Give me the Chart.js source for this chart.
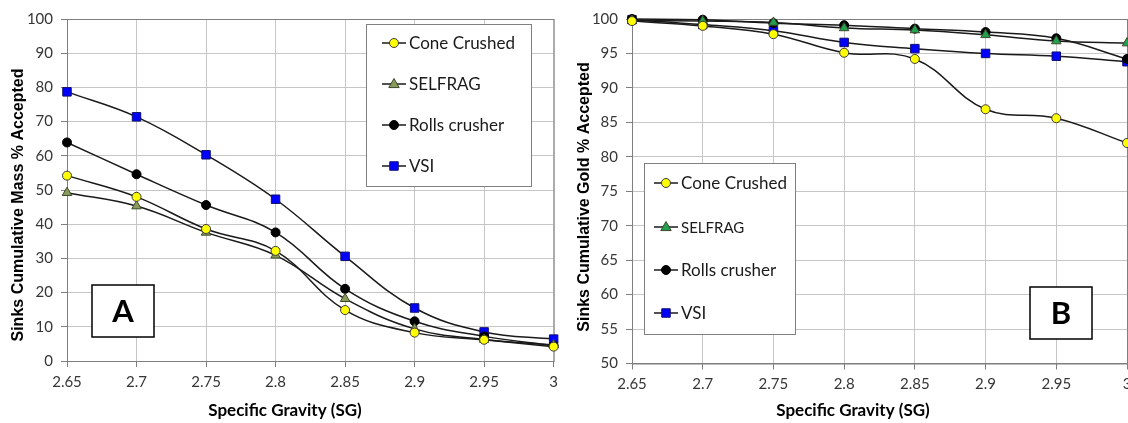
<!DOCTYPE html>
<html>
<head>
<meta charset="utf-8">
<script src="https://cdn.jsdelivr.net/npm/chart.js"></script>
<style>
  html, body { margin: 0; padding: 0; background: #fff; overflow: hidden; }
  .panel { position: absolute; top: 0; }
</style>
</head>
<body>
<div class="panel" style="left:0px"><canvas id="chartA" width="564" height="423"></canvas></div>
<div class="panel" style="left:564px"><canvas id="chartB" width="580" height="423"></canvas></div>
<script>
// specific gravity cut points (x axis categories)
const sgLabels = ['2.65', '2.7', '2.75', '2.8', '2.85', '2.9', '2.95', '3'];
const seriesNames = ['Cone Crushed', 'SELFRAG', 'Rolls crusher', 'VSI'];

// A: sinks cumulative mass % accepted
const massCone    = [54.2, 48.0, 38.6, 32.2, 14.9, 8.3, 6.2, 4.2];
const massSelfrag = [49.2, 45.3, 37.6, 30.9, 18.2, 9.4, 6.3, 4.7];
const massRolls   = [63.9, 54.6, 45.6, 37.6, 21.1, 11.6, 7.2, 4.5];
const massVsi     = [78.7, 71.4, 60.3, 47.3, 30.6, 15.5, 8.5, 6.4];

// B: sinks cumulative gold % accepted
const goldCone    = [99.7, 99.0, 97.8, 95.1, 94.2, 86.9, 85.6, 82.0];
const goldSelfrag = [99.8, 99.7, 99.5, 98.7, 98.4, 97.7, 96.8, 96.5];
const goldRolls   = [100.0, 99.9, 99.4, 99.1, 98.6, 98.1, 97.2, 94.2];
const goldVsi     = [99.9, 99.2, 98.3, 96.6, 95.7, 95.0, 94.6, 93.8];

// axis ranges
const massAxis = { min: 0, max: 100, step: 10 };
const goldAxis = { min: 50, max: 100, step: 5 };

const gridColor = '#c6c6c6';
const axisColor = '#7f7f7f';
const tickColor = '#363636';

function drawMarker(ctx, style, x, y, r, fill, stroke) {
    ctx.beginPath();
    if (style === 'rect') {
        const s = r * Math.SQRT1_2;
        ctx.rect(x - s, y - s, 2 * s, 2 * s);
    } else if (style === 'triangle') {
        ctx.moveTo(x, y - r);
        ctx.lineTo(x + r * 0.95, y + r * 0.65);
        ctx.lineTo(x - r * 0.95, y + r * 0.65);
        ctx.closePath();
    } else {
        ctx.arc(x, y, r, 0, Math.PI * 2);
    }
    ctx.fillStyle = fill;
    ctx.fill();
    ctx.lineWidth = 1;
    ctx.strokeStyle = stroke;
    ctx.stroke();
}

// top/right frame of the plot area
const frame = {
    id: 'frame',
    beforeDatasetsDraw(chart) {
        const { ctx, chartArea: a } = chart;
        ctx.save();
        ctx.strokeStyle = axisColor;
        ctx.lineWidth = 1;
        ctx.strokeRect(a.left + 0.5, a.top + 0.5, a.right - a.left, a.bottom - a.top);
        ctx.restore();
    }
};

// legend box, panel tag and axis titles
const decorations = {
    id: 'decorations',
    afterDraw(chart, args, o) {
        const { ctx } = chart;
        ctx.save();

        // legend
        const lb = o.legend;
        ctx.fillStyle = '#fff';
        ctx.fillRect(lb.x, lb.y, lb.w, lb.h);
        ctx.strokeStyle = '#808080';
        ctx.lineWidth = 1;
        ctx.strokeRect(lb.x + 0.5, lb.y + 0.5, lb.w, lb.h);
        chart.data.datasets.forEach((ds, i) => {
            const y = lb.rows[i];
            ctx.beginPath();
            ctx.moveTo(lb.lineX, y);
            ctx.lineTo(lb.lineX + 24, y);
            ctx.strokeStyle = '#1a1a1a';
            ctx.lineWidth = 1.5;
            ctx.stroke();
            drawMarker(ctx, ds.pointStyle, lb.lineX + 12, y, ds.pointRadius,
                       ds.pointBackgroundColor, ds.pointBorderColor);
            ctx.fillStyle = '#1a1a1a';
            ctx.font = (lb.sizes ? lb.sizes[i] : 17) + 'px Lato';
            ctx.textBaseline = 'middle';
            ctx.textAlign = 'left';
            ctx.fillText(ds.label, lb.lineX + 27, y + 1);
        });

        // panel tag
        const t = o.tag;
        ctx.fillStyle = '#fff';
        ctx.fillRect(t.x, t.y, t.w, t.h);
        ctx.strokeStyle = '#000';
        ctx.lineWidth = 1.5;
        ctx.strokeRect(t.x, t.y, t.w, t.h);
        ctx.fillStyle = '#000';
        ctx.font = 'bold 31px Lato';
        ctx.textAlign = 'center';
        ctx.textBaseline = 'middle';
        ctx.fillText(t.text, t.x + t.w / 2, t.y + t.h / 2 + 1);

        // axis titles
        ctx.fillStyle = '#000';
        ctx.font = 'bold 17px Lato';
        ctx.fillText('Specific Gravity (SG)', o.xTitle.x, o.xTitle.y);
        ctx.translate(o.yTitle.x, o.yTitle.y);
        ctx.rotate(-Math.PI / 2);
        ctx.font = 'bold 16px "Liberation Sans"';
        ctx.fillText(o.yTitle.text, 0, 0);
        ctx.restore();
    }
};

const makeDataset = (label, data, style, fill, stroke, radius) => ({
    label: label,
    data: data,
    borderColor: '#1a1a1a',
    borderWidth: 1.5,
    tension: 0.4,
    fill: false,
    clip: false,
    pointStyle: style,
    pointRadius: radius,
    pointHoverRadius: radius,
    pointBackgroundColor: fill,
    pointBorderColor: stroke,
    pointBorderWidth: 1
});

const createChart = (canvasId, cfg) => {
    const ctx = document.getElementById(canvasId).getContext('2d');
    return new Chart(ctx, {
        type: 'line',
        data: {
            labels: sgLabels,
            datasets: [
                makeDataset(seriesNames[0], cfg.series[0], 'circle', '#ffff00', '#3a3a3a', 4.5),
                makeDataset(seriesNames[1], cfg.series[1], 'triangle', cfg.triColor, '#3a4a2a', 5.5),
                makeDataset(seriesNames[2], cfg.series[2], 'circle', '#000000', '#000000', 4.5),
                makeDataset(seriesNames[3], cfg.series[3], 'rect', '#0000ff', '#10106a', 6)
            ]
        },
        options: {
            responsive: false,
            animation: false,
            layout: { padding: cfg.padding },
            plugins: {
                legend: { display: false },
                tooltip: { enabled: false },
                decorations: cfg.deco
            },
            scales: {
                x: {
                    type: 'category',
                    offset: false,
                    grid: { color: gridColor, tickColor: axisColor, tickLength: 6, offset: false },
                    border: { color: axisColor, width: 1 },
                    ticks: { color: tickColor, font: { family: 'Lato', size: 15 }, padding: 6, maxRotation: 0 },
                    afterFit: (scale) => { scale.height = cfg.xHeight; }
                },
                y: {
                    min: cfg.axis.min,
                    max: cfg.axis.max,
                    grid: { color: gridColor, tickColor: axisColor, tickLength: 6 },
                    border: { color: axisColor, width: 1 },
                    ticks: { stepSize: cfg.axis.step, color: tickColor, font: { family: 'Lato', size: 15 }, padding: 8 },
                    afterFit: (scale) => { scale.width = cfg.yWidth; }
                }
            }
        },
        plugins: [frame, decorations]
    });
};

createChart('chartA', {
    series: [massCone, massSelfrag, massRolls, massVsi],
    axis: massAxis,
    triColor: '#8a9a5b',
    padding: { left: 0, right: 6, top: 19, bottom: 0 },
    yWidth: 67,
    xHeight: 62,
    deco: {
        legend: { x: 366, y: 24, w: 165, h: 162, lineX: 382, rows: [43, 84, 125, 166] },
        tag: { x: 92, y: 285, w: 62, h: 52, text: 'A' },
        xTitle: { x: 285, y: 411 },
        yTitle: { x: 19, y: 205, text: 'Sinks Cumulative Mass % Accepted' }
    }
});

createChart('chartB', {
    series: [goldCone, goldSelfrag, goldRolls, goldVsi],
    axis: goldAxis,
    triColor: '#22a050',
    padding: { left: 0, right: 17, top: 19, bottom: 0 },
    yWidth: 68,
    xHeight: 59.5,
    deco: {
        legend: { x: 80, y: 163, w: 151, h: 171, lineX: 90, rows: [183, 227, 270, 313], sizes: [17, 15, 17, 17] },
        tag: { x: 466, y: 287, w: 62, h: 52, text: 'B' },
        xTitle: { x: 289, y: 411 },
        yTitle: { x: 21, y: 197, text: 'Sinks Cumulative Gold % Accepted' }
    }
});
</script>
</body>
</html>
